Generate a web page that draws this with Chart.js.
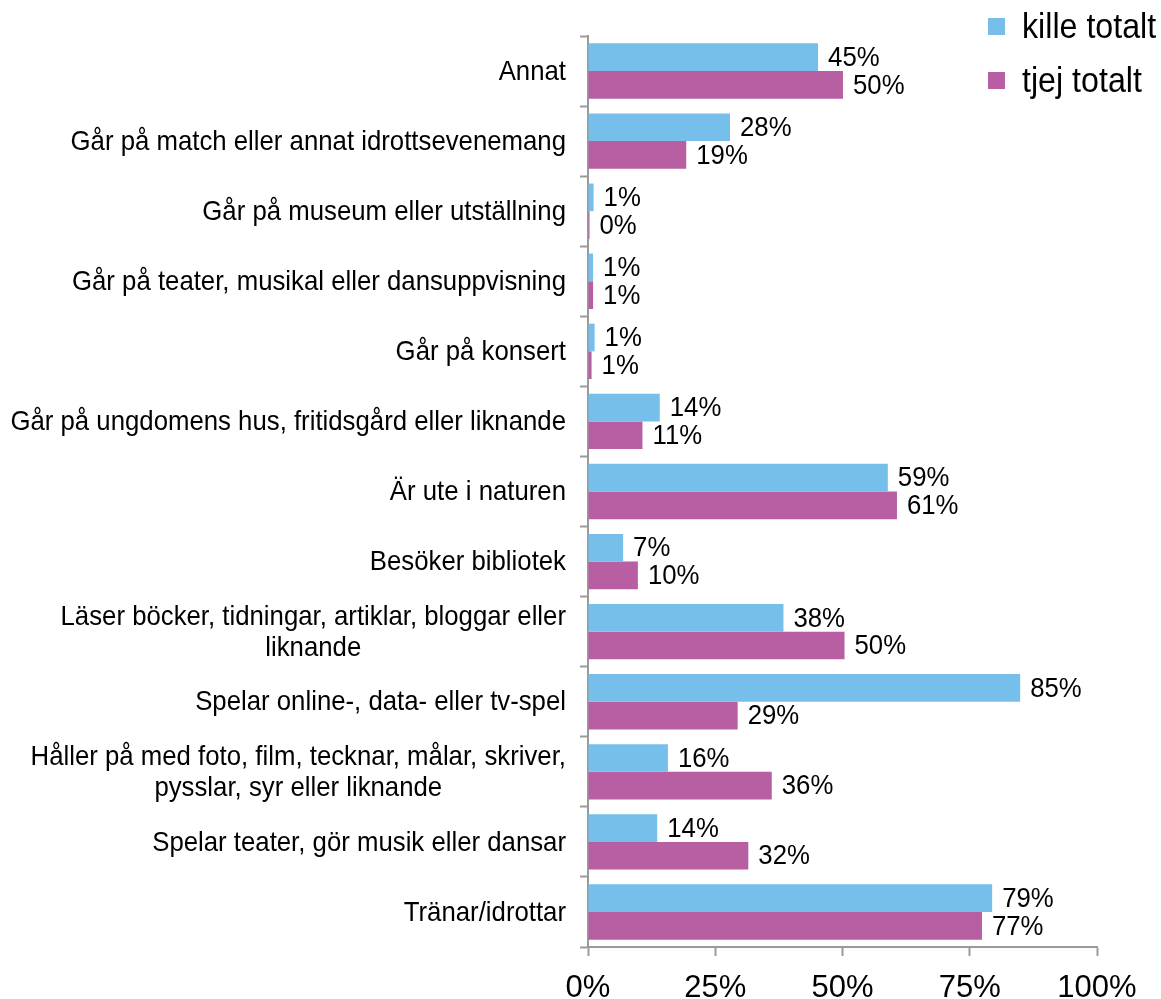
<!DOCTYPE html>
<html>
<head>
<meta charset="utf-8">
<script src="https://cdn.jsdelivr.net/npm/chart.js@4"></script>
<style>
  body { margin: 0; background: #fff; }
  canvas { display: block; }
</style>
</head>
<body>
<canvas id="myChart" width="1161" height="999"></canvas>
<script>
// data, top to bottom
var categories = [
    'Annat',
    'Går på match eller annat idrottsevenemang',
    'Går på museum eller utställning',
    'Går på teater, musikal eller dansuppvisning',
    'Går på konsert',
    'Går på ungdomens hus, fritidsgård eller liknande',
    'Är ute i naturen',
    'Besöker bibliotek',
    ['Läser böcker, tidningar, artiklar, bloggar eller', 'liknande'],
    'Spelar online-, data- eller tv-spel',
    ['Håller på med foto, film, tecknar, målar, skriver,', 'pysslar, syr eller liknande'],
    'Spelar teater, gör musik eller dansar',
    'Tränar/idrottar'
]
var killeTotalt = [45.2, 27.9, 1.1, 1.0, 1.3, 14.1, 58.9, 6.9, 38.4, 84.9, 15.7, 13.6, 79.4]
var tjejTotalt = [50.1, 19.3, 0.3, 1.0, 0.7, 10.7, 60.7, 9.8, 50.4, 29.4, 36.1, 31.5, 77.4]
var xTicks = [0, 25, 50, 75, 100]

var seriesNames = ['kille totalt', 'tjej totalt']
var seriesColors = ['#75BFEA', '#B85EA3']

var FONT = '"Liberation Sans", Arial, sans-serif'

function condensedText(ctx, text, x, y, size, sx, align) {
    ctx.save()
    ctx.font = size + 'px ' + FONT
    ctx.textAlign = align
    ctx.textBaseline = 'middle'
    ctx.fillStyle = '#000'
    ctx.translate(x, y)
    ctx.scale(sx, 1)
    ctx.fillText(text, 0, 0)
    ctx.restore()
}

// category names left of the axis, lines centred on each other
var categoryLabels = {
    id: 'categoryLabels',
    afterDraw: function (chart) {
        var ctx = chart.ctx
        var yScale = chart.scales.y
        var right = chart.chartArea.left - 22
        var size = 28, sx = 0.92, lh = 31
        ctx.save()
        ctx.font = size + 'px ' + FONT
        categories.forEach(function (lab, i) {
            var lines = Array.isArray(lab) ? lab : [lab]
            var maxW = 0
            lines.forEach(function (l) { maxW = Math.max(maxW, ctx.measureText(l).width * sx) })
            var cx = right - maxW / 2
            var yc = yScale.getPixelForValue(i)
            var y0 = yc - (lines.length - 1) * lh / 2
            lines.forEach(function (l, k) {
                condensedText(ctx, l, cx, y0 + k * lh + 1, size, sx, 'center')
            })
        })
        ctx.restore()
    }
}

// value labels at the end of each bar
var valueLabels = {
    id: 'valueLabels',
    afterDatasetsDraw: function (chart) {
        var ctx = chart.ctx
        chart.data.datasets.forEach(function (ds, d) {
            var meta = chart.getDatasetMeta(d)
            meta.data.forEach(function (bar, i) {
                condensedText(ctx, Math.round(ds.data[i]) + '%', bar.x + 10, bar.y + 1, 28, 0.92, 'left')
            })
        })
    }
}

// legend in the top right corner
var cornerLegend = {
    id: 'cornerLegend',
    afterDraw: function (chart) {
        var ctx = chart.ctx
        var x = chart.width - 173
        chart.data.datasets.forEach(function (ds, d) {
            var top = 18 + d * 54
            ctx.fillStyle = ds.backgroundColor
            ctx.fillRect(x, top, 17, 17)
            condensedText(ctx, ds.label, x + 34, top + 10, 35, 0.92, 'left')
        })
    }
}

var data = {
    labels: categories,
    datasets: [
        { label: seriesNames[0], data: killeTotalt, backgroundColor: seriesColors[0] },
        { label: seriesNames[1], data: tjejTotalt, backgroundColor: seriesColors[1] }
    ]
}

var config = {
    type: 'bar',
    data: data,
    options: {
        indexAxis: 'y',
        responsive: false,
        animation: false,
        barPercentage: 1.0,
        categoryPercentage: 0.79,
        layout: { padding: { top: 36, right: 64, left: 0, bottom: 0 } },
        plugins: { legend: { display: false }, tooltip: { enabled: false } },
        scales: {
            x: {
                min: 0,
                max: 100,
                afterBuildTicks: function (s) { s.ticks = xTicks.map(function (v) { return { value: v } }) },
                afterFit: function (s) { s.height = 52 },
                ticks: {
                    callback: function (v) { return v + '%' },
                    color: '#000',
                    font: { family: FONT, size: 31 },
                    padding: 14,
                    maxRotation: 0
                },
                grid: { drawOnChartArea: false, drawTicks: true, tickLength: 9, tickColor: '#9a9a9a', tickWidth: 2 },
                border: { color: '#9a9a9a', width: 2 }
            },
            y: {
                afterFit: function (s) { s.width = 588 },
                ticks: { display: false },
                grid: { offset: true, drawOnChartArea: false, drawTicks: true, tickLength: 8, tickColor: '#9a9a9a', tickWidth: 2 },
                border: { color: '#9a9a9a', width: 2 }
            }
        }
    },
    plugins: [categoryLabels, valueLabels, cornerLegend]
}

var myChart = new Chart(document.getElementById('myChart'), config)
</script>
</body>
</html>
